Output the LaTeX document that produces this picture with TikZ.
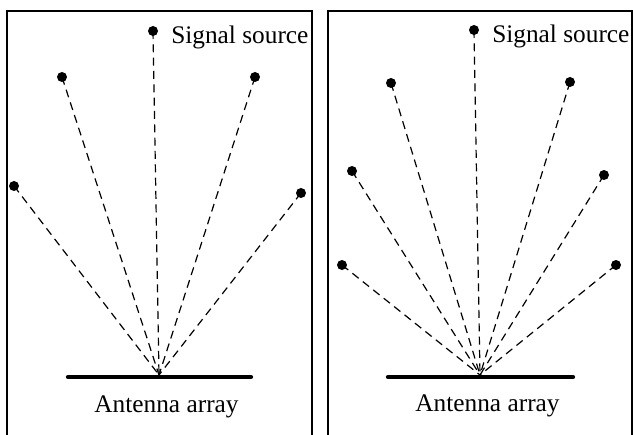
\documentclass[tikz,border=0pt]{standalone}
\usepackage{fontspec}
\setmainfont{Liberation Serif}
\begin{document}
\begin{tikzpicture}[x=0.75pt,y=-0.75pt,
  frame/.style={line width=1pt},
  src/.style={circle,fill=black,inner sep=0pt,minimum size=7.5pt},
  ray/.style={line width=0.9pt,dash pattern=on 6pt off 4pt},
  bar/.style={line width=3.2pt,line cap=round},
  lbl/.style={font=\fontsize{19}{22}\selectfont,inner sep=0pt}]
\useasboundingbox (0,0) rectangle (633,435);
% frames
\draw[frame] (7,436) -- (7,11) -- (312,11) -- (312,436);
\draw[frame] (328,436) -- (328,11) -- (632,11) -- (632,436);
% left panel
\coordinate (cL) at (159,375);
\node[src] (l1) at (153,31) {};
\node[src] (l2) at (62,77) {};
\node[src] (l3) at (255,77) {};
\node[src] (l4) at (14,186) {};
\node[src] (l5) at (301,193) {};
\foreach \n in {l1,l2,l3,l4,l5} \draw[ray] (\n.center) -- (cL);
\coordinate (bL1) at (68,377);
\coordinate (bL2) at (251,377);
\draw[bar] (bL1) -- (bL2);
\node[lbl,anchor=base west] (sL) at (171,44) {Signal source};
\node[lbl,anchor=base] (aL) at (166.5,412) {Antenna array};
% right panel
\coordinate (cR) at (480,375);
\node[src] (r1) at (474,30) {};
\node[src] (r2) at (391,83) {};
\node[src] (r3) at (570,82) {};
\node[src] (r4) at (352,171) {};
\node[src] (r5) at (604,175) {};
\node[src] (r6) at (342,265) {};
\node[src] (r7) at (616,265) {};
\foreach \n in {r1,r2,r3,r4,r5,r6,r7} \draw[ray] (\n.center) -- (cR);
\coordinate (bR1) at (388,377);
\coordinate (bR2) at (573,377);
\draw[bar] (bR1) -- (bR2);
\node[lbl,anchor=base west] (sR) at (492,43) {Signal source};
\node[lbl,anchor=base] (aR) at (487.5,411) {Antenna array};
\end{tikzpicture}
\end{document}
